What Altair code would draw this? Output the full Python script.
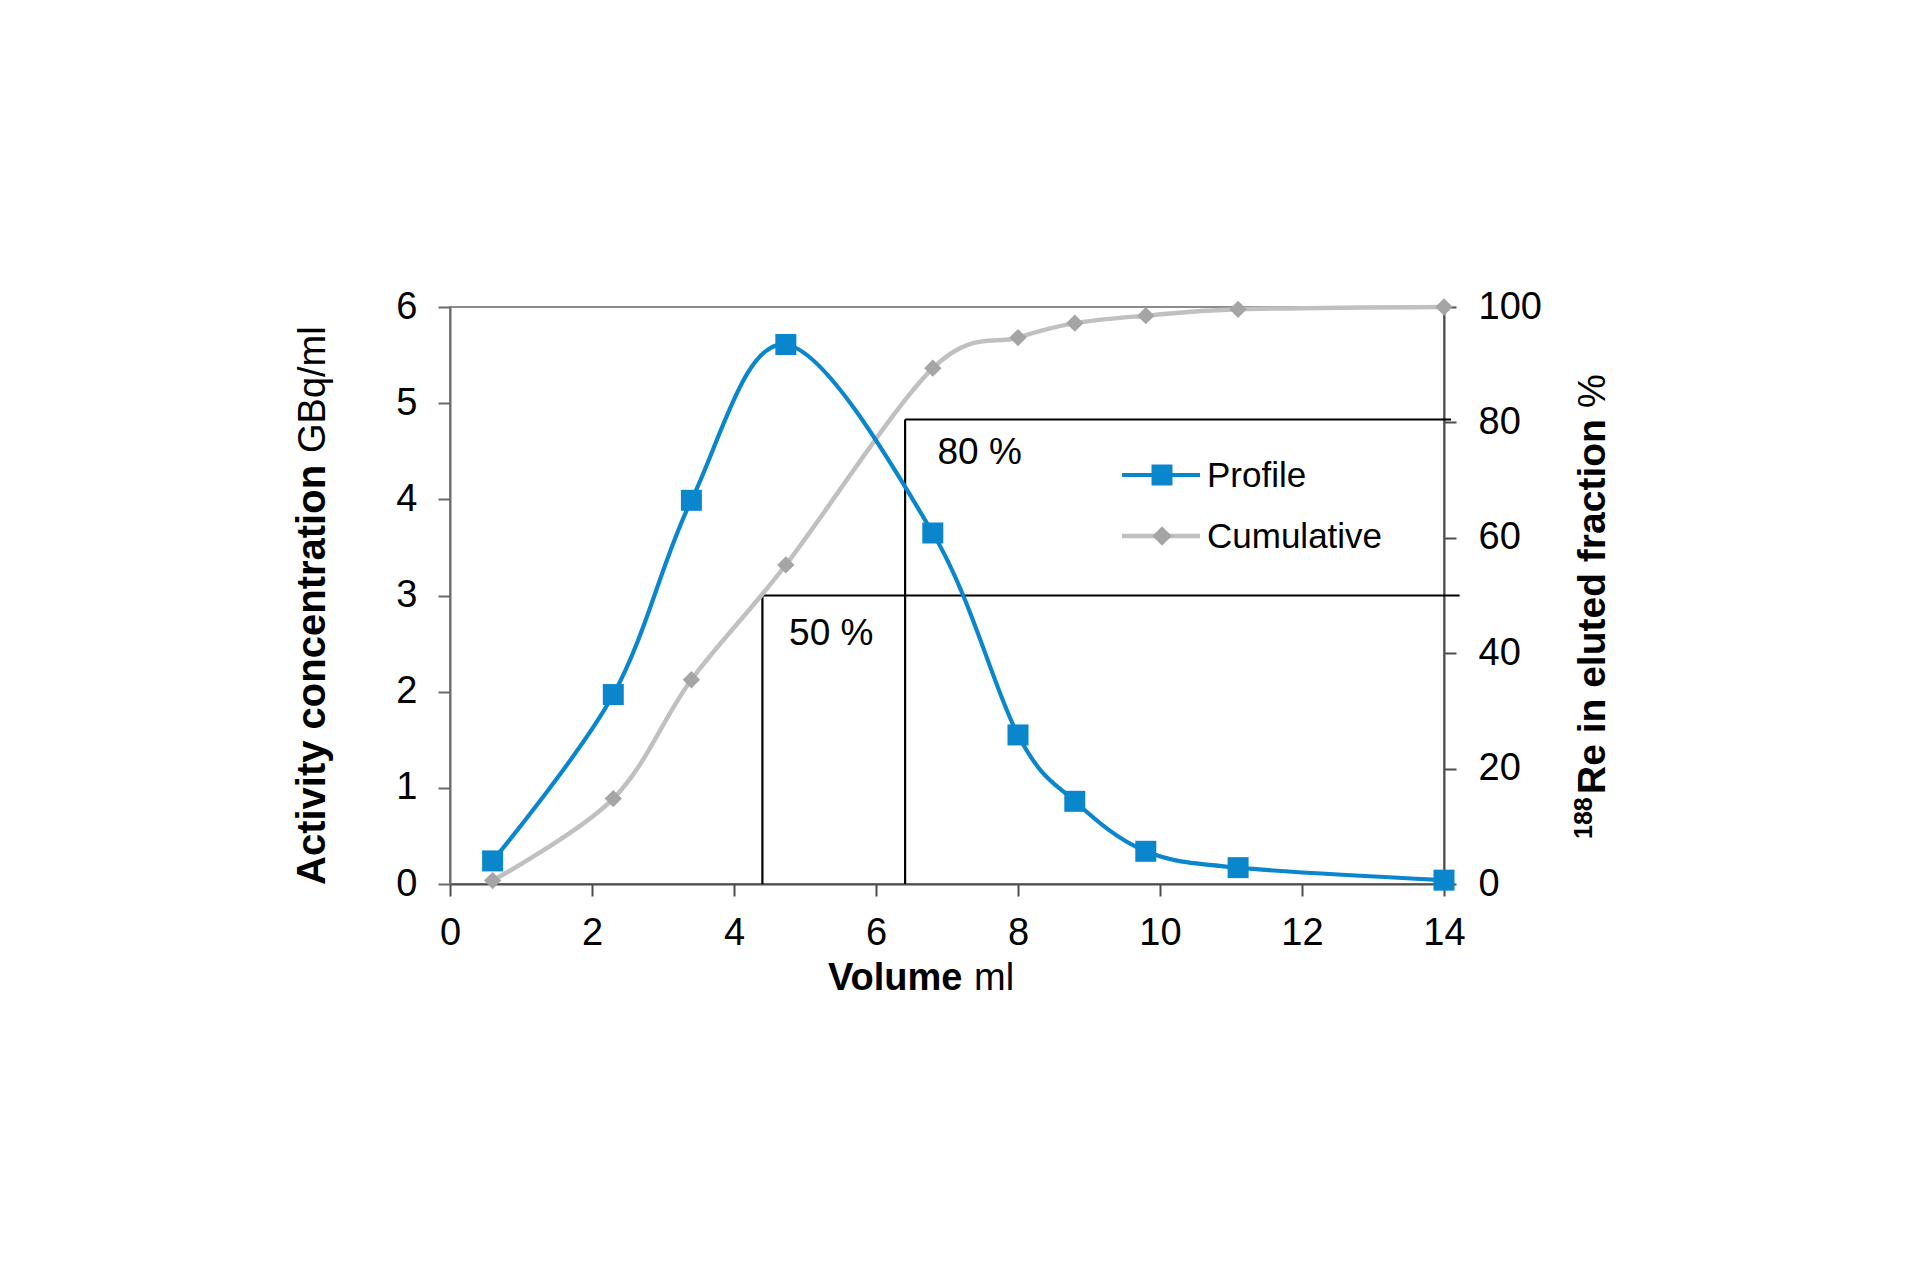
import altair as alt
import pandas as pd

# ---------------- data ----------------
volume = [0.6, 2.3, 3.4, 4.73, 6.8, 8.0, 8.8, 9.8, 11.1, 14.0]
profile = [0.24, 1.97, 3.99, 5.61, 3.65, 1.55, 0.86, 0.34, 0.17, 0.04]
cumulative = [0.6, 14.8, 35.4, 55.3, 89.4, 94.7, 97.2, 98.5, 99.6, 100.0]

x_ticks = [0, 2, 4, 6, 8, 10, 12, 14]
left_ticks = [0, 1, 2, 3, 4, 5, 6]
right_ticks = [0, 20, 40, 60, 80, 100]

thresholds = [50, 80.5]
threshold_volume = [4.4, 6.41]
threshold_end = [14.22, 14.1]
threshold_labels = ["50 %", "80 %"]
label_volume = [5.37, 7.46]
label_level = [43.3, 74.7]

series_names = ["Profile", "Cumulative"]

# ---------------- styling ----------------
FONT = "Liberation Sans"
BLUE = "#0a86cc"
GRAY_LINE = "#c0c0c0"
GRAY_MARK = "#a5a5a5"
TICK_FS = 38

df = pd.DataFrame({"volume": volume, "profile": profile, "cumulative": cumulative})
df_ref = pd.DataFrame({
    "level": thresholds,
    "vol": threshold_volume,
    "end": threshold_end,
    "zero": [0, 0],
})
df_lab = pd.DataFrame({"text": threshold_labels, "vol": label_volume, "level": label_level})

xscale = alt.Scale(domain=[0, 14], nice=False, zero=False)
xaxis = alt.Axis(values=x_ticks, title=None, orient="bottom", grid=False,
                 domainColor="#4d4d4d", domainWidth=2, tickColor="#4d4d4d",
                 tickWidth=2, tickSize=12, labelFontSize=TICK_FS, labelPadding=18,
                 labelColor="black", labelFont=FONT, format="d", labelFlush=False)

lscale = alt.Scale(domain=[0, 6], nice=False, zero=True)
laxis = alt.Axis(values=left_ticks, title=None, orient="left", grid=False,
                 domainColor="#6b6b6b", domainWidth=2, tickColor="#6b6b6b",
                 tickWidth=2, tickSize=12, labelFontSize=TICK_FS, labelPadding=21,
                 labelColor="black", labelFont=FONT, format="d", labelFlush=False)

rscale = alt.Scale(domain=[0, 100], nice=False, zero=True)
raxis = alt.Axis(values=right_ticks, title=None, orient="right", grid=False,
                 domainColor="#4d4d4d", domainWidth=2, tickColor="#4d4d4d",
                 tickWidth=2, tickSize=12, labelFontSize=TICK_FS, labelPadding=22,
                 labelColor="black", labelFont=FONT, format="d", labelFlush=False)


def X(field):
    return alt.X(field, type="quantitative", scale=xscale, axis=xaxis)


def YL(field):
    return alt.Y(field, type="quantitative", scale=lscale, axis=laxis)


def YR(field):
    return alt.Y(field, type="quantitative", scale=rscale, axis=raxis)


def label(text, x, y, size, weight="normal", angle=0, align="left", baseline="alphabetic"):
    return alt.Chart(pd.DataFrame({"t": [text]})).mark_text(
        font=FONT, fontSize=size, fontWeight=weight, angle=angle, align=align,
        baseline=baseline, color="black"
    ).encode(text="t:N", x=alt.value(x), y=alt.value(y))


# ---------------- right-axis layer (cumulative + thresholds) ----------------
h_rules = alt.Chart(df_ref).mark_rule(color="black", strokeWidth=2.2).encode(
    x=X("vol"), x2="end:Q", y=YR("level"))
v_rules = alt.Chart(df_ref).mark_rule(color="black", strokeWidth=2.2).encode(
    x=X("vol"), y=YR("level"), y2="zero:Q")
thr_text = alt.Chart(df_lab).mark_text(
    font=FONT, fontSize=37, color="black", align="center", baseline="middle"
).encode(x=X("vol"), y=YR("level"), text="text:N")

cum_line = alt.Chart(df).mark_line(
    interpolate="cardinal", color=GRAY_LINE, strokeWidth=4.5
).encode(x=X("volume"), y=YR("cumulative"))
cum_pts = alt.Chart(df).mark_point(
    shape="diamond", filled=True, size=300, color=GRAY_MARK, opacity=1
).encode(x=X("volume"), y=YR("cumulative"))

right_layer = alt.layer(h_rules, v_rules, thr_text, cum_line, cum_pts)

# ---------------- left-axis layer (profile) ----------------
prof_line = alt.Chart(df).mark_line(
    interpolate="cardinal", color=BLUE, strokeWidth=4.2
).encode(x=X("volume"), y=YL("profile"))
prof_pts = alt.Chart(df).mark_point(
    shape="square", filled=True, size=441, color=BLUE, opacity=1
).encode(x=X("volume"), y=YL("profile"))

# legend (drawn inside the plot)
leg = pd.DataFrame({"name": series_names})
leg_p = leg[leg.name == series_names[0]]
leg_c = leg[leg.name == series_names[1]]
legend_layers = [
    alt.Chart(leg_p).mark_rule(color=BLUE, strokeWidth=4.2).encode(
        x=alt.value(672), x2=alt.value(750), y=alt.value(168)),
    alt.Chart(leg_p).mark_point(shape="square", filled=True, size=441, color=BLUE, opacity=1).encode(
        x=alt.value(712), y=alt.value(168)),
    alt.Chart(leg_p).mark_text(font=FONT, fontSize=35, align="left", baseline="middle", color="black").encode(
        x=alt.value(757), y=alt.value(169), text="name:N"),
    alt.Chart(leg_c).mark_rule(color=GRAY_LINE, strokeWidth=4.5).encode(
        x=alt.value(672), x2=alt.value(750), y=alt.value(229)),
    alt.Chart(leg_c).mark_point(shape="diamond", filled=True, size=380, color=GRAY_MARK, opacity=1).encode(
        x=alt.value(712), y=alt.value(229)),
    alt.Chart(leg_c).mark_text(font=FONT, fontSize=35, align="left", baseline="middle", color="black").encode(
        x=alt.value(757), y=alt.value(230), text="name:N"),
]

# axis titles with mixed weights
titles = [
    label("Activity concentration", -125, 578, 40, "bold", 270, "left"),
    label("GBq/ml", -125, 146, 38, "normal", 270, "left"),
    label("Volume", 378, 683, 38, "bold"),
    label("ml", 524, 683, 38, "normal"),
    label("188", 1142, 532, 25, "bold", 270, "left"),
    label("Re in eluted fraction", 1155, 487, 39, "bold", 270, "left"),
    label("%", 1155, 101, 38, "normal", 270, "left"),
]

left_layer = alt.layer(prof_line, prof_pts, *legend_layers, *titles)

chart = alt.layer(right_layer, left_layer).resolve_scale(y="independent").properties(
    width=994, height=577,
    autosize=alt.AutoSizeParams(type="none"),
    padding={"left": 442, "top": 299, "right": 460, "bottom": 380},
    background="white",
).configure_view(stroke="#8c8c8c", strokeWidth=2)

chart.save("out.html", embed_options={"renderer": "svg", "actions": False})
